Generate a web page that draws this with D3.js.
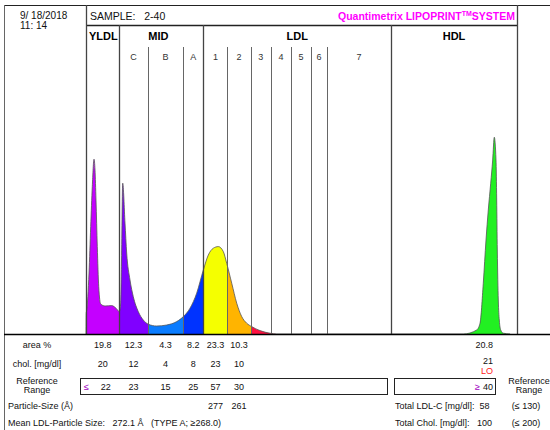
<!DOCTYPE html>
<html><head><meta charset="utf-8">
<script src="https://cdn.jsdelivr.net/npm/d3@7"></script>
<style>body{margin:0;background:#fff}svg{display:block;font-family:"Liberation Sans",Arial,sans-serif}text{white-space:pre}</style>
</head><body><svg id="c" width="550" height="430"></svg>
<script>
// ---- data ----
const bandNames = ["VLDL","C","B","A","1","2","3","4","5","6","7","HDL"];
const bandEdges = [0, 7.73, 14.27, 22.58, 27.22, 32.83, 38.17, 42.92, 47.56, 52.20, 55.92, 70.77, 100];
const bandColors = ["#C400FF","#8000FF","#0A7CFF","#0033FF","#F5FF00","#FFB400","#FF1040","#C00020","#A00000","#800000","#600000","#22F022"];
const groupNames = ["YLDL","MID","LDL","HDL"];
const groupEdgeIdx = [[0,1],[1,4],[4,11],[11,12]];
const subLabels = ["","C","B","A","1","2","3","4","5","6","7",""];
const areaPct = ["19.8","12.3","4.3","8.2","23.3","10.3"];
const cholVals = ["20","12","4","8","23","10"];
const refVals = ["22","23","15","25","57","30"];
const particleSize = ["","","","","277","261"];
const hdlArea = "20.8", hdlChol = "21", hdlRef = "40";
const mobility = [0,0.05,0.16,0.70,1.09,1.46,1.86,2.09,2.32,2.62,2.95,3.41,4.41,5.96,6.96,7.73,8.05,8.24,8.52,9.05,9.44,10.21,10.97,12.13,13.29,14.45,16.40,18.72,21.04,22.58,24.13,25.68,27.22,28.38,29.54,30.70,31.86,32.64,33.81,34.97,36.13,37.28,38.45,40.37,42.69,44.25,87.54,90.65,91.42,92.18,92.81,93.34,93.90,94.36,94.73,95.13,95.29,95.43,95.66,95.89,96.22,96.82,98.4];
const density  = [0,10.5,11.7,30.5,53.7,73.7,87.4,82,67,43.7,23.7,15,14,14.2,12.9,11.2,15.5,37,75.4,55.5,40.5,27,18.7,11.2,7,4.9,4,4.5,6.2,8.7,12.9,20.4,32,39.5,42.9,43.7,41.2,35.4,25.4,15.4,8.7,5.4,3.7,1.7,0.4,0,0,2,5.4,25.4,47,62,75.4,87,98.4,87,67,42,17,7,2,0.4,0];

// ---- layout ----
const svg = d3.select("#c");
const x = d3.scaleLinear().domain([0,100]).range([86,517]);
const y = d3.scaleLinear().domain([0,100]).range([334,134]);
const base = y(0);
const pts = mobility.map((m,i)=>({m, h:density[i]}));

const defs = svg.append("defs");
const grad = defs.append("linearGradient").attr("id","bands").attr("gradientUnits","userSpaceOnUse")
  .attr("x1",x(0)).attr("x2",x(100)).attr("y1",0).attr("y2",0);
bandColors.forEach((c,i)=>{
  grad.append("stop").attr("offset",bandEdges[i]/100).attr("stop-color",c);
  grad.append("stop").attr("offset",bandEdges[i+1]/100).attr("stop-color",c);
});

const area = d3.area().x(d=>x(d.m)).y0(base).y1(d=>y(d.h)).curve(d3.curveMonotoneX);
const line = d3.line().x(d=>x(d.m)).y(d=>y(d.h)).curve(d3.curveMonotoneX);
svg.append("path").datum(pts).attr("d",area).attr("fill","url(#bands)");
svg.append("path").datum(pts).attr("d",line).attr("fill","none").attr("stroke","#555").attr("stroke-width",0.8);

// frame
const g = svg.append("g").attr("stroke","#222").attr("fill","none");
g.append("line").attr("x1",4).attr("x2",550).attr("y1",5.5).attr("y2",5.5).attr("stroke-width",1.2);
g.append("line").attr("x1",4.5).attr("x2",4.5).attr("y1",5).attr("y2",430).attr("stroke","#666");
g.append("line").attr("x1",x(0)).attr("x2",x(100)).attr("y1",25.5).attr("y2",25.5).attr("stroke-width",1.5);

bandEdges.forEach((e,i)=>{
  const major = [0,1,4,11,12].includes(i);
  const top = (i===0||i===12) ? 5 : (major ? 25 : 47);
  svg.append("line").attr("x1",Math.round(x(e))+0.5).attr("x2",Math.round(x(e))+0.5)
    .attr("y1",top).attr("y2",base)
    .attr("stroke", major ? "#444" : "#666").attr("stroke-width", major ? 1.3 : 1);
});
svg.append("line").attr("x1",4).attr("x2",550).attr("y1",base+0.5).attr("y2",base+0.5).attr("stroke","#000").attr("stroke-width",1.5);

const T = (tx,ty,s,o={})=>svg.append("text").attr("x",tx).attr("y",ty).text(s)
  .attr("font-size",o.fs||9.5).attr("fill",o.fill||"#111").attr("text-anchor",o.anchor||"start").attr("font-weight",o.fw||"normal");
T(20,19,"9/ 18/2018",{fs:10});
T(20,29,"11: 14",{fs:10});
T(90,20,"SAMPLE:   2-40",{fs:10.5});

groupNames.forEach((n,i)=>{
  const [a,b] = groupEdgeIdx[i];
  const gx = i===0 ? x(bandEdges[a])+3 : (x(bandEdges[a])+x(bandEdges[b]))/2 + (i===1?-3:0);
  T(gx,40,n,{fs:11,fw:"bold",anchor:i===0?"start":"middle",fill:"#000"});
});
subLabels.forEach((s,i)=>{
  if(!s) return;
  T((x(bandEdges[i])+x(bandEdges[i+1]))/2,60,s,{fs:9,anchor:"middle",fill:"#333"});
});

const cx = i => (x(bandEdges[i])+x(bandEdges[i+1]))/2;
T(37,348,"area %",{fs:9,anchor:"middle"});
T(37,367,"chol. [mg/dl]",{fs:9,anchor:"middle"});
T(37,384,"Reference",{fs:9,anchor:"middle"});
T(37,393,"Range",{fs:9,anchor:"middle"});
areaPct.forEach((v,i)=>T(cx(i),348,v,{fs:9,anchor:"middle"}));
cholVals.forEach((v,i)=>T(cx(i),367,v,{fs:9,anchor:"middle"}));
svg.append("rect").attr("x",80.5).attr("y",378.5).attr("width",307).attr("height",16).attr("fill","none").attr("stroke","#222");
T(84,390,"≤",{fs:9,fill:"#A000C0"});
refVals.forEach((v,i)=>T(cx(i)+(i===0?3:0),390,v,{fs:9,anchor:"middle"}));
particleSize.forEach((v,i)=>{ if(v) T(cx(i),409,v,{fs:9,anchor:"middle"}); });
T(8,409,"Particle-Size (Å)",{fs:9});
T(8,426,"Mean LDL-Particle Size:   272.1 Å   (TYPE A; ≥268.0)",{fs:9});

T(493,348,hdlArea,{fs:9,anchor:"end"});
T(493,364,hdlChol,{fs:9,anchor:"end"});
T(493,374,"LO",{fs:9,anchor:"end",fill:"#FF2020"});
svg.append("rect").attr("x",394.5).attr("y",378.5).attr("width",101).attr("height",16).attr("fill","none").attr("stroke","#222");
T(475,390,"≥",{fs:9,fill:"#A000C0"});
T(493,390,hdlRef,{fs:9,anchor:"end"});
T(529,384,"Reference",{fs:9,anchor:"middle"});
T(529,393,"Range",{fs:9,anchor:"middle"});
T(395,409,"Total LDL-C [mg/dl]:  58",{fs:9});
T(395,426,"Total Chol. [mg/dl]:   100",{fs:9});
T(526,409,"(≤ 130)",{fs:9,anchor:"middle"});
T(526,426,"(≤ 200)",{fs:9,anchor:"middle"});

// brand title (drawn last)
const brand = svg.append("text").attr("x",515).attr("y",20).attr("text-anchor","end")
  .attr("font-size",10.5).attr("font-weight","bold").attr("fill","#FF00FF");
brand.append("tspan").text("Quantimetrix LIPOPRINT");
brand.append("tspan").attr("font-size",7).attr("dy",-4).text("TM");
brand.append("tspan").attr("dy",4).text("SYSTEM");
</script></body></html>
